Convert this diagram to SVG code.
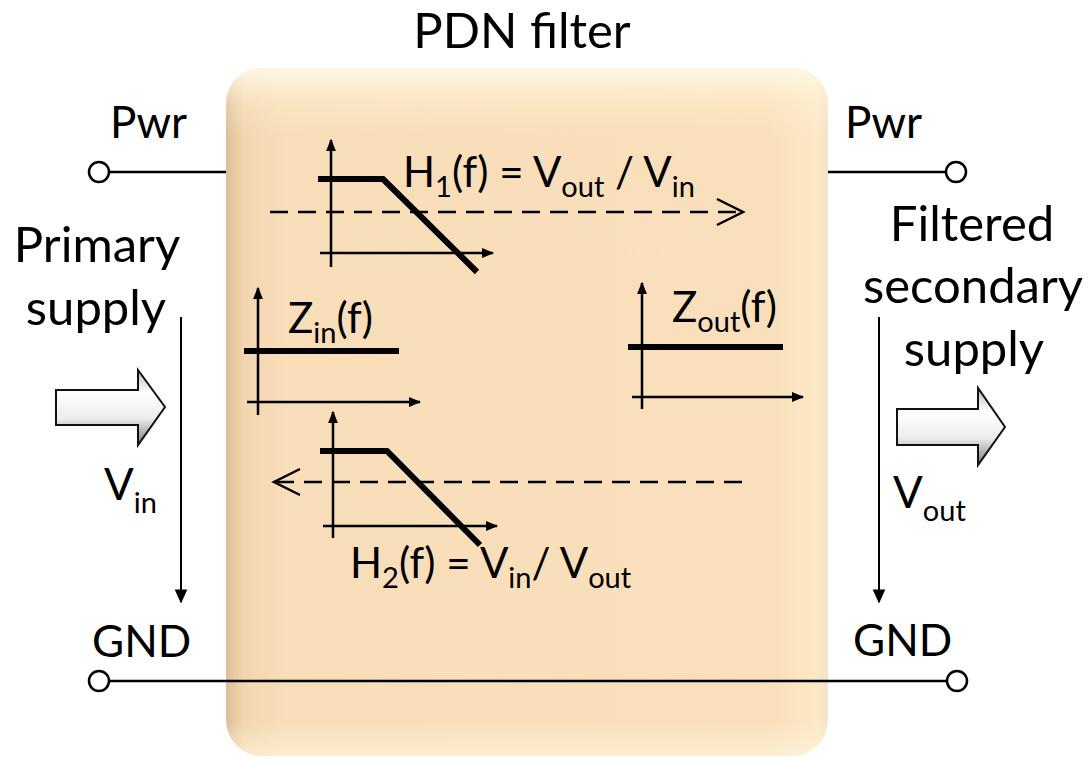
<svg xmlns="http://www.w3.org/2000/svg" width="1091" height="760" viewBox="0 0 1091 760">
  <defs>
    <linearGradient id="boxH" x1="0" y1="0" x2="1" y2="0">
      <stop offset="0" stop-color="#dcbf98"/>
      <stop offset="0.03" stop-color="#f2d6b0"/>
      <stop offset="0.1" stop-color="#f8ddb9"/>
      <stop offset="0.9" stop-color="#f9dfbb"/>
      <stop offset="0.98" stop-color="#fce8c6"/>
      <stop offset="1" stop-color="#f3e3cc"/>
    </linearGradient>
    <linearGradient id="boxV" x1="0" y1="0" x2="0" y2="1">
      <stop offset="0" stop-color="#fffbe8" stop-opacity="0.9"/>
      <stop offset="0.05" stop-color="#fff6dc" stop-opacity="0.3"/>
      <stop offset="0.1" stop-color="#fff6dc" stop-opacity="0"/>
      <stop offset="0.95" stop-color="#fff6dc" stop-opacity="0"/>
      <stop offset="1" stop-color="#fff8e0" stop-opacity="0.6"/>
    </linearGradient>
    <linearGradient id="arrowG" x1="0" y1="0" x2="0" y2="1">
      <stop offset="0" stop-color="#bdbdbd"/>
      <stop offset="0.3" stop-color="#ffffff"/>
      <stop offset="0.65" stop-color="#ececec"/>
      <stop offset="1" stop-color="#7a7a7a"/>
    </linearGradient>
    <marker id="ax" viewBox="0 0 10 10" refX="9" refY="5" markerWidth="5" markerHeight="5" markerUnits="strokeWidth" orient="auto">
      <path d="M0,1 L10,5 L0,9 Z" fill="#000"/>
    </marker>
    <marker id="va" viewBox="0 0 10 10" refX="9" refY="5" markerWidth="8" markerHeight="7" markerUnits="strokeWidth" orient="auto">
      <path d="M0,0.5 L10,5 L0,9.5 Z" fill="#000"/>
    </marker>
  </defs>
  <style>
    text { font-family: Lato, "Liberation Sans", sans-serif; fill: #000; }
    .lbl { font-size: 44px; }
    .big { font-size: 49px; }
    .glbl { font-size: 42px; }
    .axis { stroke: #000; stroke-width: 2.5; fill: none; marker-end: url(#ax); }
    .curve { stroke: #000; stroke-width: 6; fill: none; }
    .dash { stroke: #000; stroke-width: 2.5; fill: none; stroke-dasharray: 18 10; }
    .chev { stroke: #000; stroke-width: 2.5; fill: none; }
    .wire { stroke: #000; stroke-width: 2.5; fill: none; }
    .term { stroke: #000; stroke-width: 2.5; fill: #fff; }
    .varrow { stroke: #000; stroke-width: 2; fill: none; marker-end: url(#va); }
    .blk { fill: url(#arrowG); stroke: #111; stroke-width: 2; }
  </style>

  <g id="pdn-filter">
    <rect x="226" y="68" width="602" height="688" rx="36" ry="36" fill="url(#boxH)"/>
    <rect x="226" y="68" width="602" height="688" rx="36" ry="36" fill="url(#boxV)"/>
    <text x="522" y="48" text-anchor="middle" class="big">PDN filter</text>
  </g>

  <g id="connectors">
    <line class="wire" x1="109" y1="172" x2="226" y2="172"/>
    <line class="wire" x1="828" y1="172" x2="945" y2="172"/>
    <line class="wire" x1="109" y1="681" x2="946" y2="681"/>
    <line class="varrow" x1="181" y1="317" x2="181" y2="602"/>
    <line class="varrow" x1="879" y1="317" x2="879" y2="602"/>
  </g>

  <g id="terminal-pwr-in">
    <circle class="term" cx="99" cy="172" r="10"/>
    <text x="110" y="138" class="lbl">Pwr</text>
  </g>
  <g id="terminal-pwr-out">
    <circle class="term" cx="956" cy="172" r="10"/>
    <text x="845" y="138" class="lbl">Pwr</text>
  </g>
  <g id="terminal-gnd-in">
    <circle class="term" cx="99" cy="681" r="10"/>
    <text x="92" y="657" class="lbl">GND</text>
  </g>
  <g id="terminal-gnd-out">
    <circle class="term" cx="957" cy="681" r="10"/>
    <text x="853" y="656" class="lbl">GND</text>
  </g>

  <g id="primary-supply">
    <text x="97" y="262" text-anchor="middle" class="big">Primary</text>
    <text x="96" y="325" text-anchor="middle" class="big">supply</text>
    <path class="blk" d="M56,390 H138 V370 L165,407 L138,445 V425 H56 Z"/>
    <text x="104" y="500" class="lbl">V<tspan font-size="29" dy="13">in</tspan></text>
  </g>

  <g id="secondary-supply">
    <text x="972" y="241" text-anchor="middle" class="big">Filtered</text>
    <text x="973" y="303" text-anchor="middle" class="big">secondary</text>
    <text x="974" y="366" text-anchor="middle" class="big">supply</text>
    <path class="blk" d="M897,409 H978 V388 L1005,427 L978,465 V445 H897 Z"/>
    <text x="893" y="508" class="lbl">V<tspan font-size="29" dy="13">out</tspan></text>
  </g>

  <g id="graph-h1">
    <line class="axis" x1="331" y1="267" x2="331" y2="140"/>
    <line class="axis" x1="320" y1="253" x2="493" y2="253"/>
    <polyline class="curve" points="318,179 383,179 477,272"/>
    <line class="dash" x1="270" y1="212" x2="742" y2="212"/>
    <polyline class="chev" points="717,199 743,212 717,225"/>
    <text x="403" y="187" class="glbl">H<tspan font-size="29" dy="10">1</tspan><tspan dy="-10">(f) = V</tspan><tspan font-size="29" dy="10">out</tspan><tspan dy="-10"> / V</tspan><tspan font-size="29" dy="10">in</tspan></text>
  </g>

  <g id="graph-zin">
    <line class="axis" x1="258" y1="415" x2="258" y2="288"/>
    <line class="axis" x1="247" y1="402" x2="420" y2="402"/>
    <line class="curve" x1="244" y1="351" x2="399" y2="351"/>
    <text x="288" y="333" class="glbl">Z<tspan font-size="29" dy="10">in</tspan><tspan dy="-10">(f)</tspan></text>
  </g>

  <g id="graph-zout">
    <line class="axis" x1="642" y1="409" x2="642" y2="283"/>
    <line class="axis" x1="632" y1="397" x2="803" y2="397"/>
    <line class="curve" x1="628" y1="347" x2="783" y2="347"/>
    <text x="672" y="322" class="glbl">Z<tspan font-size="29" dy="10">out</tspan><tspan dy="-10">(f)</tspan></text>
  </g>

  <g id="graph-h2">
    <line class="axis" x1="333" y1="538" x2="333" y2="412"/>
    <line class="axis" x1="323" y1="526" x2="497" y2="526"/>
    <polyline class="curve" points="320,451 387,451 480,545"/>
    <line class="dash" x1="276" y1="482" x2="748" y2="482"/>
    <polyline class="chev" points="300,469 274,482 300,495"/>
    <text x="350" y="578" class="glbl">H<tspan font-size="29" dy="10">2</tspan><tspan dy="-10">(f) = V</tspan><tspan font-size="29" dy="10">in</tspan><tspan dy="-10">/ V</tspan><tspan font-size="29" dy="10">out</tspan></text>
  </g>
</svg>
